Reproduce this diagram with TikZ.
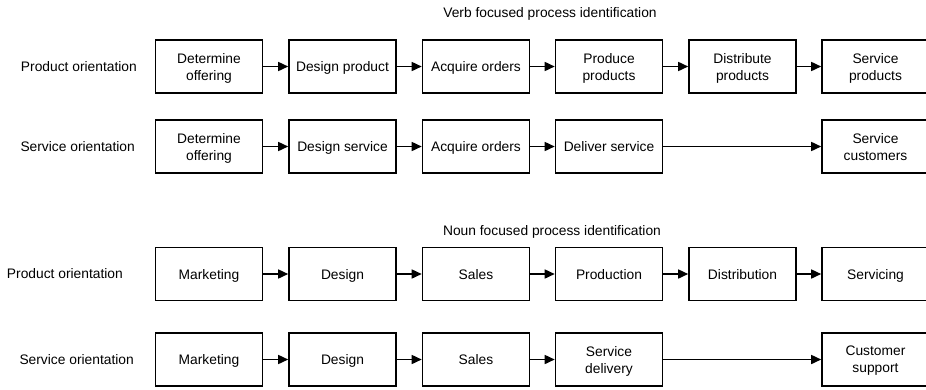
\documentclass[tikz,border=0pt]{standalone}
\usepackage{fontspec}
\setmainfont{Liberation Sans}
\usetikzlibrary{arrows.meta}
\begin{document}
\begin{tikzpicture}[x=1pt,y=-1pt,
  box/.style={draw, line width=1.6pt, minimum width=107pt, minimum height=53pt, inner sep=0pt, text depth=0pt, align=center, font=\fontsize{13.8}{17}\selectfont},
  lbl/.style={font=\fontsize{13.8}{17}\selectfont, inner sep=0pt},
  arr/.style={line width=1.6pt, -{Triangle[length=10pt,width=9pt]}}]
\useasboundingbox (0,0) rectangle (926,389);
% titles
\node[lbl] (t1) at (550,14) {Verb focused process identification};
\node[lbl] (t2) at (552,232) {Noun focused process identification};
% row labels
\node[lbl,anchor=east] (l1) at (137,67) {Product orientation};
\node[lbl,anchor=east] (l2) at (135,147) {Service orientation};
\node[lbl,anchor=east] (l3) at (123,274) {Product orientation};
\node[lbl,anchor=east] (l4) at (134,360) {Service orientation};
% row 1
\node[box] (a1) at (209,66.5) {Determine\\offering};
\node[box] (a2) at (342.5,66.5) {Design product};
\node[box] (a3) at (476,66.5) {Acquire orders};
\node[box] (a4) at (609,66.5) {Produce\\products};
\node[box] (a5) at (742.5,66.5) {Distribute\\products};
\node[box] (a6) at (875.5,66.5) {Service\\products};
% row 2
\node[box] (b1) at (209,146.5) {Determine\\offering};
\node[box] (b2) at (342.5,146.5) {Design service};
\node[box] (b3) at (476,146.5) {Acquire orders};
\node[box] (b4) at (609,146.5) {Deliver service};
\node[box] (b6) at (875.5,146.5) {Service\\customers};
% row 3
\node[box] (c1) at (209,274) {Marketing};
\node[box] (c2) at (342.5,274) {Design};
\node[box] (c3) at (476,274) {Sales};
\node[box] (c4) at (609,274) {Production};
\node[box] (c5) at (742.5,274) {Distribution};
\node[box] (c6) at (875.5,274) {Servicing};
% row 4
\node[box] (d1) at (209,359.5) {Marketing};
\node[box] (d2) at (342.5,359.5) {Design};
\node[box] (d3) at (476,359.5) {Sales};
\node[box] (d4) at (609,359.5) {Service\\delivery};
\node[box] (d6) at (875.5,359.5) {Customer\\support};
% arrows
\foreach \r in {a,c}{
  \draw[arr] (\r1) -- (\r2);
  \draw[arr] (\r2) -- (\r3);
  \draw[arr] (\r3) -- (\r4);
  \draw[arr] (\r4) -- (\r5);
  \draw[arr] (\r5) -- (\r6);
}
\foreach \r in {b,d}{
  \draw[arr] (\r1) -- (\r2);
  \draw[arr] (\r2) -- (\r3);
  \draw[arr] (\r3) -- (\r4);
  \draw[arr] (\r4) -- (\r6);
}
\end{tikzpicture}
\end{document}
